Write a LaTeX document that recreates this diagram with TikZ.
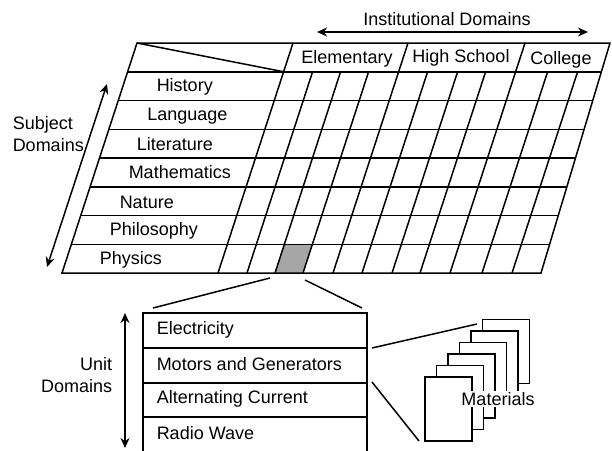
\documentclass[tikz,border=0pt]{standalone}
\usepackage{fontspec}
\setmainfont{Liberation Sans}
\usetikzlibrary{arrows.meta,positioning}

\begin{document}
\begin{tikzpicture}[>={Stealth[length=10pt,width=9pt]}, x=1pt, y=-1pt,
  font=\fontsize{18}{22}\selectfont, line width=1.5pt]
  \useasboundingbox (0,0) rectangle (612,450);
  % grey cell (Physics, third Elementary column)
  \fill[black!35] (275,273) -- (303,273) -- (312.4,244.25) -- (284.4,244.25) -- cycle;
  % outline of the subject/institution grid
  \draw (137,43) -- (610,43) -- (541,273) -- (62,273) -- cycle;
  \draw (137,43) -- (283.6,71.75);
  % row lines
  \draw (127.6,71.75) -- (601.4,71.75);
  \draw (118.2,100.5) -- (592.8,100.5);
  \draw (108.9,129.25) -- (584.1,129.25);
  \draw (99.5,158) -- (575.5,158);
  \draw (90.1,186.75) -- (566.9,186.75);
  \draw (80.7,215.5) -- (558.3,215.5);
  \draw (71.4,244.25) -- (549.6,244.25);
  % group separators, full height
  \draw (218,273) -- (293,43);
  \draw (333,273) -- (408,43);
  \draw (450,273) -- (525,43);
  % sub-columns
  \draw (247,273) -- (312.6,71.75);
  \draw (275,273) -- (340.6,71.75);
  \draw (303,273) -- (368.6,71.75);
  \draw (362,273) -- (427.6,71.75);
  \draw (392,273) -- (457.6,71.75);
  \draw (420,273) -- (485.6,71.75);
  \draw (482,273) -- (547.6,71.75);
  \draw (512,273) -- (577.6,71.75);
  % column heads
  \node (elem) at (347,59) {Elementary};
  \node (high) at (461,58) {High School};
  \node (coll) at (561,60) {College};
  \node (inst) at (447,19) {Institutional Domains};
  \draw[<->] (317,32) -- (588,32);
  % row heads
  \node[anchor=west, inner sep=0pt] (history) at (156,87) {History};
  \node[anchor=west, inner sep=0pt] (language) at (146.5,116) {Language};
  \node[anchor=west, inner sep=0pt] (literature) at (136,144.5) {Literature};
  \node[anchor=west, inner sep=0pt] (maths) at (128,172.5) {Mathematics};
  \node[anchor=west, inner sep=0pt] (nature) at (119,202) {Nature};
  \node[anchor=west, inner sep=0pt] (philo) at (109,231) {Philosophy};
  \node[anchor=west, inner sep=0pt] (physics) at (99,259.5) {Physics};
  \node[anchor=west, inner sep=0pt, align=left] (subj) at (12,134) {Subject\\Domains};
  \draw[<->] (107,84) -- (47,267);
  % unit box
  \draw (143,452) -- (143,313) -- (367,313) -- (367,452);
  \draw (143,348) -- (367,348);
  \draw (143,383) -- (367,383);
  \draw (143,417) -- (367,417);
  \node[anchor=west, inner sep=0pt] (elec) at (156,330) {Electricity};
  \node[anchor=west, inner sep=0pt] (motor) at (156,364) {Motors and Generators};
  \node[anchor=west, inner sep=0pt] (altc) at (156,399) {Alternating Current};
  \node[anchor=west, inner sep=0pt] (radio) at (156,433) {Radio Wave};
  \node[anchor=east, inner sep=0pt, align=right] (unit) at (113,375) {Unit\\Domains};
  \draw[<->] (125,313) -- (125,448);
  % zoom from the grey cell to the unit box
  \coordinate (cellL) at (270,278);
  \coordinate (cellR) at (305,280);
  \coordinate (boxL) at (153,308);
  \coordinate (boxR) at (362,308);
  \draw (cellL) -- (boxL);
  \draw (cellR) -- (boxR);
  % stack of materials
  \draw[fill=white] (482.5,319.5) rectangle (529.5,383.5);
  \draw[fill=white] (471,331) rectangle (518,395);
  \draw[fill=white] (459.5,342.5) rectangle (506.5,406.5);
  \draw[fill=white] (448,354) rectangle (495,418);
  \draw[fill=white] (436.5,365.5) rectangle (483.5,429.5);
  \draw[fill=white] (425,377) rectangle (472,441);
  \node[fill=white, inner sep=1pt] (mat) at (498,399) {Materials};
  \coordinate (motorR) at (372,348);
  \coordinate (altR) at (372,382);
  \coordinate (matTop) at (477,324);
  \coordinate (matBot) at (419,441);
  \draw (motorR) -- (matTop);
  \draw (altR) -- (matBot);
\end{tikzpicture}
\end{document}
